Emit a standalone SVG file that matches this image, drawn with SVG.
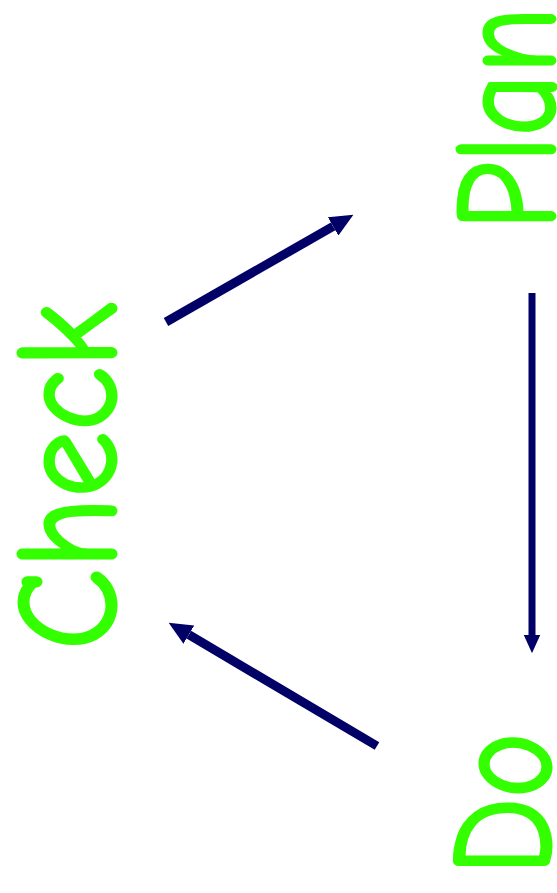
<svg xmlns="http://www.w3.org/2000/svg" width="557" height="893" viewBox="0 0 557 893">
  <style>
    .lbl { font-family: "Comic Sans MS", "Comic Neue", "DejaVu Sans", "Liberation Sans", sans-serif; font-size: 141px; fill: #33ff00; stroke: #33ff00; stroke-width: 3; stroke-linejoin: round; }
    .conn { fill: none; stroke: #000066; stroke-linecap: butt; marker-end: url(#head); }
  </style>
  <defs>
    <marker id="head" viewBox="0 0 10 10" refX="0" refY="5" markerUnits="strokeWidth" markerWidth="2.6" markerHeight="2.35" orient="auto" preserveAspectRatio="none">
      <path d="M0,0 L10,5 L0,10 z" fill="#000066"/>
    </marker>
  </defs>
  <rect width="557" height="893" fill="#ffffff"/>
  <g id="connectors">
    <line class="conn" x1="166" y1="322" x2="333.1" y2="226.4" stroke-width="9"/>
    <line class="conn" x1="532" y1="293" x2="532" y2="635" stroke-width="7"/>
    <line class="conn" x1="377" y1="746" x2="188.8" y2="634.7" stroke-width="9"/>
  </g>
  <g id="plan">
    <text class="lbl" transform="translate(554,230) rotate(-90)" textLength="223" lengthAdjust="spacingAndGlyphs">Plan</text>
  </g>
  <g id="check">
    <text class="lbl" transform="translate(115,650) rotate(-90)" textLength="347" lengthAdjust="spacingAndGlyphs">Check</text>
  </g>
  <g id="do">
    <text class="lbl" transform="translate(550,875) rotate(-90)" textLength="142" lengthAdjust="spacingAndGlyphs">Do</text>
  </g>
</svg>
